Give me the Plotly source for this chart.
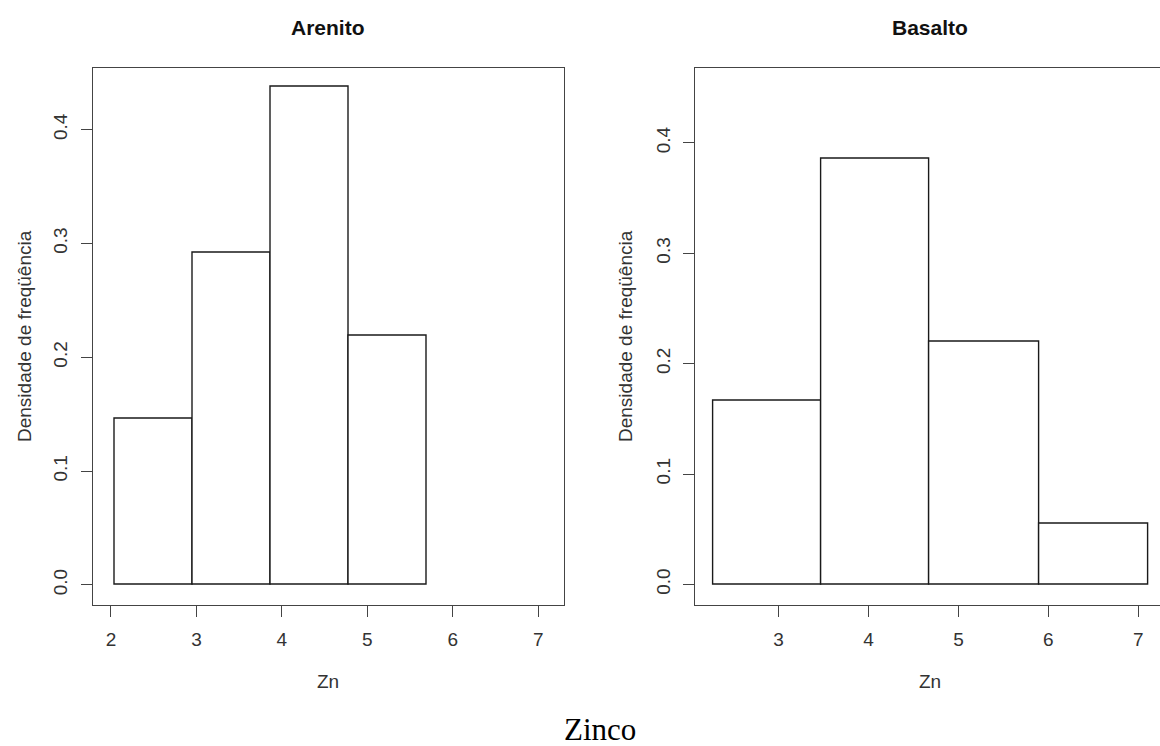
import plotly.graph_objects as go

W, H = 1160, 746

# ---- data ----
arenito_breaks = [2.04, 2.955, 3.87, 4.785, 5.70]
arenito_density = [0.146, 0.292, 0.438, 0.219]

basalto_breaks = [2.27, 3.475, 4.68, 5.90, 7.115]
basalto_density = [0.166, 0.386, 0.220, 0.055]

arenito_xticks = [2, 3, 4, 5, 6, 7]
basalto_xticks = [3, 4, 5, 6, 7]
y_ticks = [0.0, 0.1, 0.2, 0.3, 0.4]
y_ticktext = ["0.0", "0.1", "0.2", "0.3", "0.4"]

titles = ["Arenito", "Basalto"]
x_title = "Zn"
y_title = "Densidade de freqüência"
caption = "Zinco"


def hist_trace(breaks, dens, xa, ya):
    mids = [(breaks[i] + breaks[i + 1]) / 2 for i in range(len(dens))]
    widths = [breaks[i + 1] - breaks[i] for i in range(len(dens))]
    return go.Bar(
        x=mids, y=dens, width=widths, xaxis=xa, yaxis=ya,
        marker=dict(color="white", line=dict(color="#1a1a1a", width=1.4)),
        showlegend=False, hoverinfo="x+y",
    )


fig = go.Figure()
fig.add_trace(hist_trace(arenito_breaks, arenito_density, "x", "y"))
fig.add_trace(hist_trace(basalto_breaks, basalto_density, "x2", "y2"))

def px_x(p):
    return p / W

def px_y(p):
    return 1 - p / H

tickfont = dict(family="Liberation Sans, Arial, sans-serif", size=19, color="#333333")
axis_common = dict(
    showgrid=False, zeroline=False, showline=True, linecolor="#444444", linewidth=1.4,
    ticks="outside", ticklen=11, tickwidth=1.3, tickcolor="#444444", tickfont=tickfont,
    fixedrange=True,
)

ydom = [px_y(605), px_y(67.7)]

fig.update_layout(
    width=W, height=H,
    margin=dict(l=0, r=0, t=0, b=0),
    paper_bgcolor="white", plot_bgcolor="white",
    bargap=0,
    xaxis=dict(domain=[px_x(92.7), px_x(563.7)], range=[1.786, 7.298],
               tickvals=arenito_xticks, mirror=True, anchor="y",
               ticklabelstandoff=6, **axis_common),
    yaxis=dict(domain=ydom, range=[-0.0176, 0.4544], tickvals=y_ticks,
               ticktext=y_ticktext, tickangle=-90, mirror=True, anchor="x",
               ticklabelstandoff=6, **axis_common),
    xaxis2=dict(domain=[px_x(695.3), 1.0], range=[2.073, 7.242],
                tickvals=basalto_xticks, mirror=True, anchor="y2",
                ticklabelstandoff=6, **axis_common),
    yaxis2=dict(domain=ydom, range=[-0.0187, 0.4682], tickvals=y_ticks,
                ticktext=y_ticktext, tickangle=-90, mirror=False, anchor="x2",
                ticklabelstandoff=6, **axis_common),
)

labfont = dict(family="Liberation Sans, Arial, sans-serif", size=19, color="#333333")
titlefont = dict(family="Liberation Sans, Arial, sans-serif", size=21, color="#111111")

anns = []
for t, cx in zip(titles, [327.5, 929.6]):
    anns.append(dict(text="<b>%s</b>" % t, x=px_x(cx), y=px_y(27), xref="paper", yref="paper",
                     xanchor="center", yanchor="middle", showarrow=False, font=titlefont))
for cx in [327.5, 929.6]:
    anns.append(dict(text=x_title, x=px_x(cx), y=px_y(681.7), xref="paper", yref="paper",
                     xanchor="center", yanchor="middle", showarrow=False, font=labfont))
for cx in [24, 625]:
    anns.append(dict(text=y_title, x=px_x(cx), y=px_y(336), xref="paper", yref="paper",
                     xanchor="center", yanchor="middle", showarrow=False, textangle=-90,
                     font=labfont))
anns.append(dict(text=caption, x=px_x(600), y=px_y(729), xref="paper", yref="paper",
                 xanchor="center", yanchor="middle", showarrow=False,
                 font=dict(family="Liberation Serif, Times New Roman, serif", size=31, color="black")))

fig.update_layout(annotations=anns)

fig.write_html("out.html")
